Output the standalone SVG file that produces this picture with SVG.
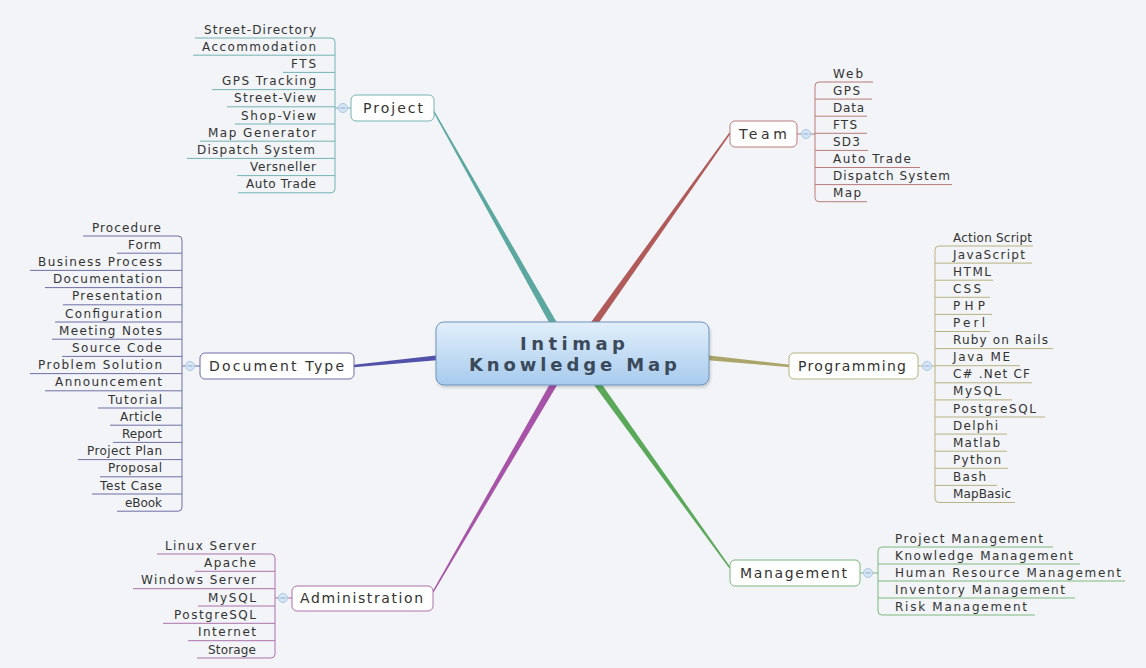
<svg xmlns="http://www.w3.org/2000/svg" width="1146" height="668" viewBox="0 0 1146 668">
<defs>
<linearGradient id="cg" x1="0" y1="0" x2="0" y2="1">
<stop offset="0" stop-color="#e2effa"/>
<stop offset="1" stop-color="#a7cbee"/>
</linearGradient>
<filter id="sh" x="-10%" y="-20%" width="120%" height="150%">
<feDropShadow dx="1" dy="2" stdDeviation="1.5" flood-color="#000" flood-opacity="0.18"/>
</filter>
</defs>
<style>
text{font-family:"DejaVu Sans","Liberation Sans",sans-serif;fill:#333}
.lf{font-size:12px}
.bn{font-size:14px}
.ct{font-size:18px;font-weight:bold;fill:#3b4a5b}
.ln{fill:none;stroke-width:1}
.nd{fill:#fff;stroke-width:1}
.cc{fill:#d6e6f5;stroke:#a9c6e3;stroke-width:1}
.cm{stroke:#8fb0d0;stroke-width:1}
.pj{stroke:#74b3b4}.tm{stroke:#bb7b7b}.dt{stroke:#6f6fa6}.pg{stroke:#b8b382}.ad{stroke:#ab72ab}.mg{stroke:#7fb87f}
</style>
<rect width="1146" height="668" fill="#f2f4f7"/>

<g id="connectors">
<polygon points="563.05,333.28 433.61,109.66 432.39,110.34 556.95,336.72" fill="#5ca8a1"/>
<polygon points="588.85,337.03 730.57,133.41 729.43,132.59 583.15,332.97" fill="#b05a5a"/>
<polygon points="444.75,354.51 353.88,364.81 354.12,367.19 445.25,359.49" fill="#5252aa"/>
<polygon points="699.75,359.49 789.88,367.19 790.12,364.81 700.25,354.51" fill="#aaa56a"/>
<polygon points="562.03,376.76 433.61,592.35 432.39,591.65 555.97,373.24" fill="#a653a8"/>
<polygon points="588.16,377.05 729.43,568.41 730.57,567.59 593.84,372.95" fill="#5aa85a"/>
</g>

<g id="central">
<rect x="436" y="322" width="273" height="63" rx="8" fill="url(#cg)" stroke="#6f93ba" stroke-width="1" filter="url(#sh)"/>
<text class="ct" x="520" y="350" textLength="105" lengthAdjust="spacing">Intimap</text>
<text class="ct" x="469" y="371" textLength="208" lengthAdjust="spacing">Knowledge Map</text>
</g>

<g id="project">
<rect class="nd pj" x="351" y="95" width="83" height="26" rx="5"/>
<text class="bn" x="363" y="113" textLength="60" lengthAdjust="spacing">Project</text>
<line class="ln pj" x1="335" y1="108" x2="351" y2="108"/>
<circle class="cc" cx="343" cy="108" r="4.5"/><line class="cm" x1="340.5" y1="108" x2="345.5" y2="108"/>
<path class="ln pj" d="M195,38 H331 Q335,38 335,42 V188.8 Q335,192.8 331,192.8 H238"/>
<path class="ln pj" d="M193,55.2H335M283,72.4H335M212,89.6H335M227,106.8H335M235,124H335M200,141.2H335M187,158.4H335M237,175.6H335"/>
<g class="lf">
<text x="204" y="33.5" textLength="112" lengthAdjust="spacing">Street-Directory</text>
<text x="202" y="50.7" textLength="114" lengthAdjust="spacing">Accommodation</text>
<text x="291" y="67.9" textLength="25" lengthAdjust="spacing">FTS</text>
<text x="222" y="85.1" textLength="94" lengthAdjust="spacing">GPS Tracking</text>
<text x="234" y="102.3" textLength="82" lengthAdjust="spacing">Street-View</text>
<text x="241" y="119.5" textLength="75" lengthAdjust="spacing">Shop-View</text>
<text x="208" y="136.7" textLength="108" lengthAdjust="spacing">Map Generator</text>
<text x="197" y="153.9" textLength="118" lengthAdjust="spacing">Dispatch System</text>
<text x="250" y="171.1" textLength="66" lengthAdjust="spacing">Versneller</text>
<text x="246" y="188.3" textLength="70" lengthAdjust="spacing">Auto Trade</text>
</g>
</g>

<g id="team">
<rect class="nd tm" x="730" y="121" width="67" height="26" rx="5"/>
<text class="bn" x="739" y="139" textLength="48" lengthAdjust="spacing">Team</text>
<line class="ln tm" x1="797" y1="134" x2="815" y2="134"/>
<circle class="cc" cx="806" cy="134" r="4.5"/><line class="cm" x1="803.5" y1="134" x2="808.5" y2="134"/>
<path class="ln tm" d="M873,82 H819 Q815,82 815,86 V197.7 Q815,201.7 819,201.7 H867"/>
<path class="ln tm" d="M815,99.1H872M815,116.2H867M815,133.3H867M815,150.4H868M815,167.5H920M815,184.6H952"/>
<g class="lf">
<text x="833" y="77.5" textLength="30" lengthAdjust="spacing">Web</text>
<text x="833" y="94.6" textLength="27" lengthAdjust="spacing">GPS</text>
<text x="833" y="111.7" textLength="31" lengthAdjust="spacing">Data</text>
<text x="833" y="128.8" textLength="24" lengthAdjust="spacing">FTS</text>
<text x="833" y="145.9" textLength="27" lengthAdjust="spacing">SD3</text>
<text x="833" y="163" textLength="78" lengthAdjust="spacing">Auto Trade</text>
<text x="833" y="180.1" textLength="117" lengthAdjust="spacing">Dispatch System</text>
<text x="833" y="197.2" textLength="28" lengthAdjust="spacing">Map</text>
</g>
</g>

<g id="document-type">
<rect class="nd dt" x="200" y="353" width="154" height="26" rx="5"/>
<text class="bn" x="209" y="371" textLength="135" lengthAdjust="spacing">Document Type</text>
<line class="ln dt" x1="182" y1="366" x2="200" y2="366"/>
<circle class="cc" cx="190" cy="366" r="4.5"/><line class="cm" x1="187.5" y1="366" x2="192.5" y2="366"/>
<path class="ln dt" d="M83,236 H178 Q182,236 182,240 V507.2 Q182,511.2 178,511.2 H117"/>
<path class="ln dt" d="M117,253.2H182M30,270.4H182M45,287.6H182M63,304.8H182M55,322H182M52,339.2H182M62,356.4H182M30,373.6H182M45,390.8H182M98,408H182M110,425.2H182M113,442.4H182M78,459.6H182M100,476.8H182M92,494H182"/>
<g class="lf">
<text x="92" y="231.5" textLength="69" lengthAdjust="spacing">Procedure</text>
<text x="128" y="248.7" textLength="33" lengthAdjust="spacing">Form</text>
<text x="38" y="265.9" textLength="124" lengthAdjust="spacing">Business Process</text>
<text x="53" y="283.1" textLength="109" lengthAdjust="spacing">Documentation</text>
<text x="72" y="300.3" textLength="90" lengthAdjust="spacing">Presentation</text>
<text x="65" y="317.5" textLength="97" lengthAdjust="spacing">Configuration</text>
<text x="59" y="334.7" textLength="103" lengthAdjust="spacing">Meeting Notes</text>
<text x="72" y="351.9" textLength="90" lengthAdjust="spacing">Source Code</text>
<text x="38" y="369.1" textLength="124" lengthAdjust="spacing">Problem Solution</text>
<text x="55" y="386.3" textLength="107" lengthAdjust="spacing">Announcement</text>
<text x="108" y="403.5" textLength="54" lengthAdjust="spacing">Tutorial</text>
<text x="120" y="420.7" textLength="42" lengthAdjust="spacing">Article</text>
<text x="122" y="437.9" textLength="40" lengthAdjust="spacing">Report</text>
<text x="87" y="455.1" textLength="75" lengthAdjust="spacing">Project Plan</text>
<text x="108" y="472.3" textLength="54" lengthAdjust="spacing">Proposal</text>
<text x="100" y="489.5" textLength="62" lengthAdjust="spacing">Test Case</text>
<text x="125" y="506.7" textLength="37" lengthAdjust="spacing">eBook</text>
</g>
</g>

<g id="programming">
<rect class="nd pg" x="789" y="353" width="129" height="26" rx="5"/>
<text class="bn" x="798" y="371" textLength="108" lengthAdjust="spacing">Programming</text>
<line class="ln pg" x1="918" y1="366" x2="935" y2="366"/>
<circle class="cc" cx="927" cy="366" r="4.5"/><line class="cm" x1="924.5" y1="366" x2="929.5" y2="366"/>
<path class="ln pg" d="M1033,246 H939 Q935,246 935,250 V498.5 Q935,502.5 939,502.5 H1015"/>
<path class="ln pg" d="M935,263.1H1032M935,280.2H993M935,297.3H990M935,314.4H992M935,331.5H990M935,348.6H1053M935,365.7H1020M935,382.8H1032M935,399.9H1012M935,417H1045M935,434.1H1007M935,451.2H1007M935,468.3H1008M935,485.4H997"/>
<g class="lf">
<text x="953" y="241.5" textLength="79" lengthAdjust="spacing">Action Script</text>
<text x="953" y="258.6" textLength="72" lengthAdjust="spacing">JavaScript</text>
<text x="953" y="275.7" textLength="38" lengthAdjust="spacing">HTML</text>
<text x="953" y="292.8" textLength="28" lengthAdjust="spacing">CSS</text>
<text x="953" y="309.9" textLength="32" lengthAdjust="spacing">PHP</text>
<text x="953" y="327" textLength="32" lengthAdjust="spacing">Perl</text>
<text x="953" y="344.1" textLength="95" lengthAdjust="spacing">Ruby on Rails</text>
<text x="953" y="361.2" textLength="57" lengthAdjust="spacing">Java ME</text>
<text x="953" y="378.3" textLength="77" lengthAdjust="spacing">C# .Net CF</text>
<text x="953" y="395.4" textLength="48" lengthAdjust="spacing">MySQL</text>
<text x="953" y="412.5" textLength="83" lengthAdjust="spacing">PostgreSQL</text>
<text x="953" y="429.6" textLength="45" lengthAdjust="spacing">Delphi</text>
<text x="953" y="446.7" textLength="47" lengthAdjust="spacing">Matlab</text>
<text x="953" y="463.8" textLength="48" lengthAdjust="spacing">Python</text>
<text x="953" y="480.9" textLength="33" lengthAdjust="spacing">Bash</text>
<text x="953" y="498" textLength="58" lengthAdjust="spacing">MapBasic</text>
</g>
</g>

<g id="administration">
<rect class="nd ad" x="292" y="586" width="141" height="25" rx="5"/>
<text class="bn" x="300" y="603" textLength="123" lengthAdjust="spacing">Administration</text>
<line class="ln ad" x1="275" y1="598" x2="292" y2="598"/>
<circle class="cc" cx="283" cy="598" r="4.5"/><line class="cm" x1="280.5" y1="598" x2="285.5" y2="598"/>
<path class="ln ad" d="M157,554 H271 Q275,554 275,558 V654 Q275,658 271,658 H197"/>
<path class="ln ad" d="M195,571.3H275M133,588.7H275M198,606H275M163,623.3H275M188,640.7H275"/>
<g class="lf">
<text x="165" y="549.5" textLength="91" lengthAdjust="spacing">Linux Server</text>
<text x="204" y="566.8" textLength="52" lengthAdjust="spacing">Apache</text>
<text x="141" y="584.2" textLength="115" lengthAdjust="spacing">Windows Server</text>
<text x="208" y="601.5" textLength="48" lengthAdjust="spacing">MySQL</text>
<text x="174" y="618.8" textLength="82" lengthAdjust="spacing">PostgreSQL</text>
<text x="198" y="636.2" textLength="58" lengthAdjust="spacing">Internet</text>
<text x="208" y="653.5" textLength="48" lengthAdjust="spacing">Storage</text>
</g>
</g>

<g id="management">
<rect class="nd mg" x="730" y="560" width="130" height="26" rx="5"/>
<text class="bn" x="740" y="578" textLength="107" lengthAdjust="spacing">Management</text>
<line class="ln mg" x1="860" y1="573" x2="878" y2="573"/>
<circle class="cc" cx="868" cy="573" r="4.5"/><line class="cm" x1="865.5" y1="573" x2="870.5" y2="573"/>
<path class="ln mg" d="M1053,547 H882 Q878,547 878,551 V611 Q878,615 882,615 H1035"/>
<path class="ln mg" d="M878,564H1080M878,581H1125M878,598H1075"/>
<g class="lf">
<text x="895" y="542.5" textLength="148" lengthAdjust="spacing">Project Management</text>
<text x="895" y="559.5" textLength="178" lengthAdjust="spacing">Knowledge Management</text>
<text x="895" y="576.5" textLength="226" lengthAdjust="spacing">Human Resource Management</text>
<text x="895" y="593.5" textLength="170" lengthAdjust="spacing">Inventory Management</text>
<text x="895" y="610.5" textLength="132" lengthAdjust="spacing">Risk Management</text>
</g>
</g>
</svg>
